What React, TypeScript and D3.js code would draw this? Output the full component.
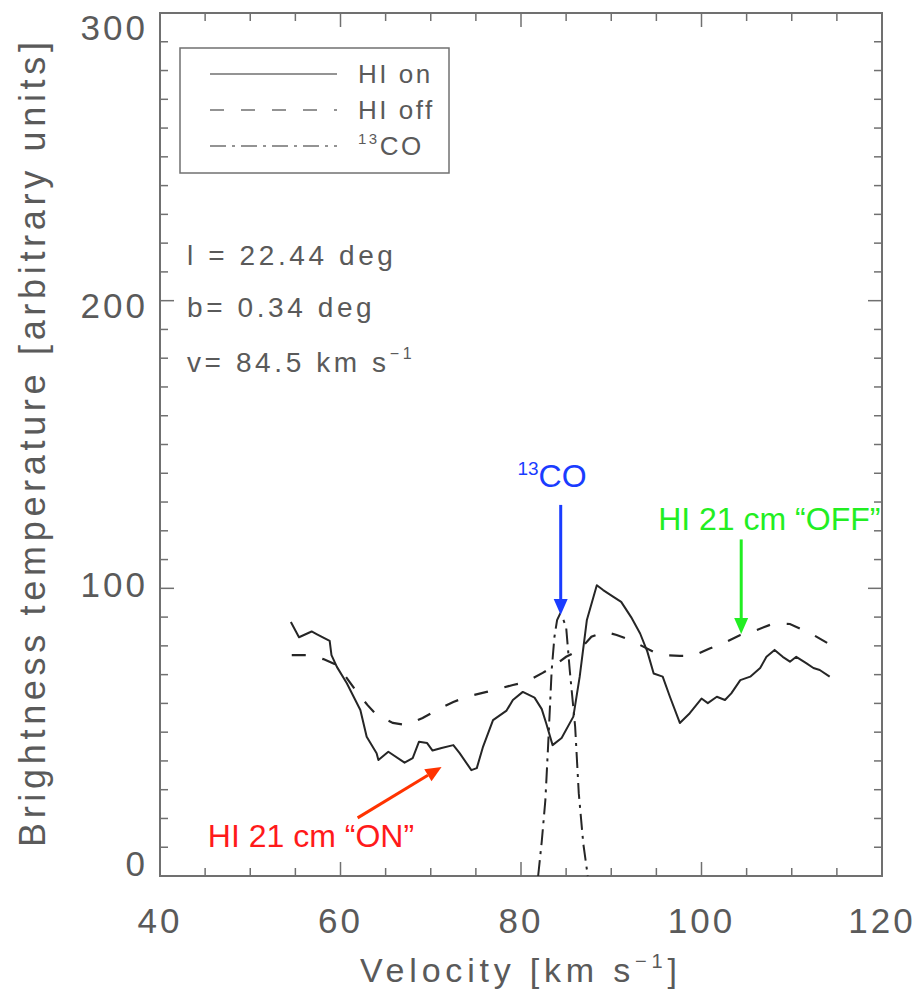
import React from "react";
import * as d3 from "d3";

const hiOnVel = [54.5,55.4,56.8,57.4,58.8,59.0,59.6,60.7,62.2,62.9,64.0,64.2,65.3,67.1,68.0,68.7,69.6,70.2,71.2,72.5,73.2,74.5,75.1,75.8,76.9,78.4,79.1,80.2,81.5,82.3,82.8,83.5,84.5,85.8,86.5,87.3,88.4,89.1,90.2,91.1,92.2,93.2,94.0,94.7,95.7,96.5,97.6,98.7,100.0,100.7,101.7,102.6,103.3,104.3,105.4,106.5,107.2,108.1,109.0,109.8,110.5,111.6,112.4,113.1,114.2];
const hiOnTemp = [88.3,83,85,84,81.7,76.8,72.7,67,57.7,48.4,42.7,40.3,43.2,39.4,41,46.7,46.2,43.6,44.5,45.5,42.7,36.8,37.5,45,54.2,57.5,61.2,64,62,58,53,45.5,48,55.4,69.2,89,101.1,99.4,97.1,95.3,90,84.3,78,70.4,69.3,62.3,53.2,56.6,61.7,60.1,62.3,61.2,63.5,68.1,69.3,72.3,76.2,78.6,76.2,74.5,76.2,74,72.3,71.6,69.3];

const hiOffVel = [54.6,56.4,58.1,59.6,60.7,61.8,63.0,64.0,65.8,67.3,69.1,70.5,72.5,74.0,76.2,79.1,80.6,82.4,83.5,85.0,86.5,87.8,89.3,90.6,92.1,93.2,94.7,95.7,97.6,99.1,100.9,102.4,104.3,106.1,108.0,109.8,111.3,112.4,114.0];
const hiOffTemp = [76.8,76.8,75.4,73.3,68.8,64,59.4,56,53.2,52.5,54.9,57.4,60.5,62.3,64,66.4,67.5,70.6,72.7,76.2,78.6,83.2,84.9,83.8,82.0,80.3,77.9,76.8,76.5,76.5,79.1,80.9,83.8,85.5,87.8,87.6,85.5,83.8,80.9];

const coVel = [81.9,82.3,82.7,83.0,83.4,83.7,84.0,84.3,84.7,85.0,85.4,86.0,86.4,86.9,87.4];
const coTemp = [0,12,26.4,45,71.6,83,89,91,89,86.6,71.6,51.9,28.8,11.3,0];

const xMajorTicks = [40, 60, 80, 100, 120];
const yMajorTicks = [0, 100, 200, 300];
const xMinorTicks = d3.range(40, 120.1, 5);
const yMinorTicks = d3.range(0, 300.1, 10);

const legendLabels = ["HI on", "HI off", "CO"];
const infoLines = ["l = 22.44 deg", "b= 0.34 deg", "v= 84.5 km s"];

// annotations in data coordinates
const coArrow = { v: 84.4, from: 129, to: 90.7 };
const offArrow = { v: 104.4, from: 117, to: 84.1 };
const onArrow = { v0: 61.9, t0: 20.2, v1: 71.2, t1: 37.9 };

const W = 921, H = 995;
const left = 160, right = 882, top = 13, bottom = 876;

export default function App() {
  const x = d3.scaleLinear().domain([40, 120]).range([left, right]);
  const y = d3.scaleLinear().domain([0, 300]).range([bottom, top]);
  const yLab = d3.scaleLinear().domain([0, 300]).range([863, 27]);

  const line = d3.line<[number, number]>().x(d => x(d[0])).y(d => y(d[1]));
  const onPath = line(hiOnVel.map((v, i) => [v, hiOnTemp[i]]));
  const offPath = line(hiOffVel.map((v, i) => [v, hiOffTemp[i]]));
  const coPath = line(coVel.map((v, i) => [v, coTemp[i]]));

  const axisColor = "#707070";
  const textColor = "#5a5a5a";
  const lineColor = "#262626";
  const font = "'Liberation Sans', Arial, sans-serif";

  const arrowHead = (x1: number, y1: number, x2: number, y2: number, color: string, len = 16, wid = 7) => {
    const ang = Math.atan2(y2 - y1, x2 - x1);
    const bx = x2 - len * Math.cos(ang), by = y2 - len * Math.sin(ang);
    const px = -Math.sin(ang) * wid, py = Math.cos(ang) * wid;
    return (
      <g>
        <line x1={x1} y1={y1} x2={bx} y2={by} stroke={color} strokeWidth={3} />
        <polygon points={`${x2},${y2} ${bx + px},${by + py} ${bx - px},${by - py}`} fill={color} />
      </g>
    );
  };

  const legendY = [74, 110, 146];
  const dashes = [null, "14,17", "16,6,3,6"];

  return (
    <svg width={W} height={H} style={{ position: "absolute", left: 0, top: 0, background: "#fff" }} fontFamily={font}>
      <rect x={0} y={0} width={W} height={H} fill="#fff" />
      <rect x={left} y={top} width={right - left} height={bottom - top} fill="none" stroke={axisColor} strokeWidth={2} />
      {xMinorTicks.map(t => {
        const major = xMajorTicks.includes(t);
        const len = major ? 14 : 8;
        return (
          <g key={"xt" + t}>
            <line x1={x(t)} x2={x(t)} y1={bottom} y2={bottom - len} stroke={axisColor} strokeWidth={1.5} />
            <line x1={x(t)} x2={x(t)} y1={top} y2={top + len} stroke={axisColor} strokeWidth={1.5} />
          </g>
        );
      })}
      {yMinorTicks.map(t => {
        const major = yMajorTicks.includes(t);
        const len = major ? 14 : 8;
        return (
          <g key={"yt" + t}>
            <line x1={left} x2={left + len} y1={y(t)} y2={y(t)} stroke={axisColor} strokeWidth={1.5} />
            <line x1={right} x2={right - len} y1={y(t)} y2={y(t)} stroke={axisColor} strokeWidth={1.5} />
          </g>
        );
      })}
      {xMajorTicks.map(t => (
        <text key={"xl" + t} x={x(t)} y={933} textAnchor="middle" fontSize={35} fill={textColor} letterSpacing={3}>{t}</text>
      ))}
      {yMajorTicks.map(t => (
        <text key={"yl" + t} x={148} y={yLab(t)} dy="0.36em" textAnchor="end" fontSize={35} fill={textColor} letterSpacing={3}>{t}</text>
      ))}
      <text x={360} y={982} fontSize={34} fill={textColor} letterSpacing={4.8}>
        Velocity [km s<tspan dy={-14} fontSize={20}>−1</tspan><tspan dy={14}>]</tspan>
      </text>
      <text transform={`translate(45,${(42 + 847) / 2}) rotate(-90)`} textAnchor="middle" fontSize={36} fill={textColor} textLength={805} lengthAdjust="spacing">
        Brightness temperature [arbitrary units]
      </text>

      <path d={offPath || ""} fill="none" stroke={lineColor} strokeWidth={2.2} strokeDasharray="14,17" />
      <path d={coPath || ""} fill="none" stroke={lineColor} strokeWidth={2} strokeDasharray="16,6,3,6" />
      <path d={onPath || ""} fill="none" stroke={lineColor} strokeWidth={2} strokeLinejoin="round" />

      <rect x={180} y={48} width={269} height={125} fill="none" stroke={axisColor} strokeWidth={1.5} />
      {legendLabels.map((lab, i) => (
        <g key={lab}>
          <line x1={210} x2={337} y1={legendY[i]} y2={legendY[i]} stroke={axisColor} strokeWidth={1.5} strokeDasharray={dashes[i] || undefined} />
          <text x={358} y={legendY[i] + 9} fontSize={26} fill={textColor} letterSpacing={2.5}>
            {i === 2 ? <><tspan fontSize={15} dy={-11}>13</tspan><tspan dy={11}>CO</tspan></> : lab}
          </text>
        </g>
      ))}

      <text x={187} y={265} fontSize={28} fill={textColor} letterSpacing={3.6}>{infoLines[0]}</text>
      <text x={187} y={317} fontSize={28} fill={textColor} letterSpacing={3.6}>{infoLines[1]}</text>
      <text x={187} y={372} fontSize={28} fill={textColor} letterSpacing={3.6}>
        {infoLines[2]}<tspan dy={-13} fontSize={16}>−1</tspan>
      </text>

      <text x={x(79.6)} y={y(135.2)} fontSize={32} fill="#1a3cff">
        <tspan fontSize={19} dy={-12}>13</tspan><tspan dy={12}>CO</tspan>
      </text>
      {arrowHead(x(coArrow.v), y(coArrow.from), x(coArrow.v), y(coArrow.to), "#1a3cff")}

      <text x={x(95.2)} y={y(120.3)} fontSize={32} fill="#22ee22">HI 21 cm “OFF”</text>
      {arrowHead(x(offArrow.v), y(offArrow.from), x(offArrow.v), y(offArrow.to), "#22ee22")}

      <text x={x(45.3)} y={y(10.1)} fontSize={32} fill="#ff1a1a">HI 21 cm “ON”</text>
      {arrowHead(x(onArrow.v0), y(onArrow.t0), x(onArrow.v1), y(onArrow.t1), "#ff3300")}
    </svg>
  );
}
